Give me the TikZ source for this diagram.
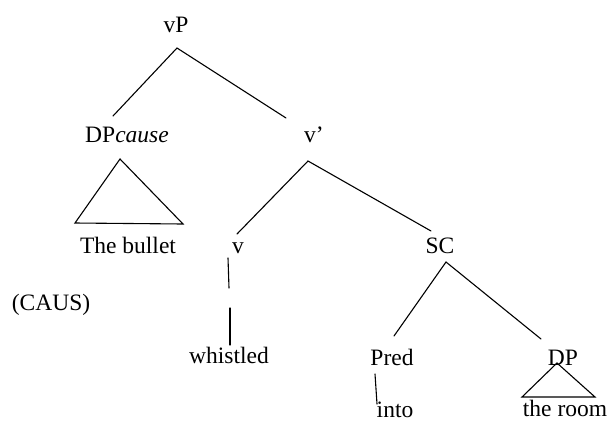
\documentclass[tikz,border=0pt]{standalone}
\usepackage{fontspec}
\setmainfont{Liberation Serif}
\begin{document}
\begin{tikzpicture}[x=1pt,y=-1pt,
  lbl/.style={anchor=base,inner sep=0pt,font=\fontsize{23.5}{28}\selectfont},
  edge/.style={line width=1.1pt,line cap=round}]
\useasboundingbox (0,0) rectangle (609,421);
% labels
\node[lbl] (vP)     at (176,32)  {vP};
\node[lbl] (DPc)    at (127,142) {DP\textit{cause}};
\node[lbl] (vbar)   at (314,142) {v’};
\node[lbl] (bullet) at (128,253) {The bullet};
\node[lbl] (v)      at (238,253) {v};
\node[lbl] (SC)     at (440,253) {SC};
\node[lbl] (caus)   at (51,310)  {(CAUS)};
\node[lbl] (whist)  at (229,363) {whistled};
\node[lbl] (Pred)   at (392,365) {Pred};
\node[lbl] (DP)     at (563,365) {DP};
\node[lbl] (into)   at (395,417) {into};
\node[lbl] (room)   at (565,416) {the room};
% branch end points
\coordinate (vP-a) at (177,48);
\coordinate (vP-l) at (113,116);
\coordinate (vP-r) at (286,118);
\coordinate (vb-a) at (308,161);
\coordinate (vb-l) at (237,234);
\coordinate (vb-r) at (431,231);
\coordinate (v-1)  at (228,258);
\coordinate (v-2)  at (229,288);
\coordinate (v-3)  at (230,308);
\coordinate (v-4)  at (230,345);
\coordinate (SC-a) at (446,262);
\coordinate (SC-l) at (394,336);
\coordinate (SC-r) at (541,339);
\coordinate (Pr-1) at (375,374);
\coordinate (Pr-2) at (377,404);
% branches
\draw[edge] (vP-l) -- (vP-a) -- (vP-r);
\draw[edge] (vb-l) -- (vb-a) -- (vb-r);
\draw[edge] (v-1) -- (v-2);
\draw[edge] (v-3) -- (v-4);
\draw[edge] (SC-l) -- (SC-a) -- (SC-r);
\draw[edge] (Pr-1) -- (Pr-2);
% triangles
\draw[edge,line join=miter] (120,159) -- (75,223) -- (183,224) -- cycle;
\draw[edge,line join=miter] (557,363) -- (522,397) -- (595,397) -- cycle;
\end{tikzpicture}
\end{document}
